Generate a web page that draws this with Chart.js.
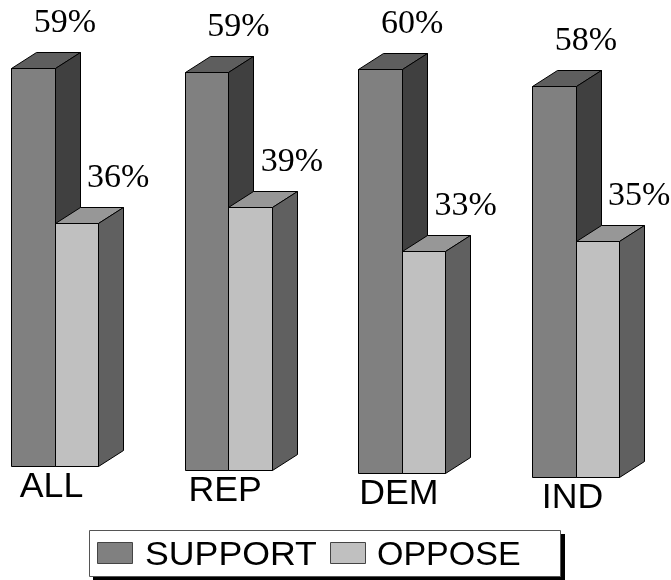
<!DOCTYPE html>
<html>
<head>
<meta charset="utf-8">
<script src="https://cdn.jsdelivr.net/npm/chart.js@4/dist/chart.umd.min.js"></script>
<style>
  body { margin: 0; background: #fff; }
</style>
</head>
<body>
<canvas id="chart" width="671" height="580"></canvas>
<script>
// données
const categories = ['ALL', 'REP', 'DEM', 'IND'];
const support = [59, 59, 60, 58];
const oppose = [36, 39, 33, 35];
const seriesNames = ['SUPPORT', 'OPPOSE'];

////////////

// profondeur des barres 3D (px)
const profX = 25;
const profY = -16;
// décalage vertical par catégorie (perspective)
const pente = 3.65;

const couleurs = [
    { face: '#808080', dessus: '#5e5e5e', cote: '#404040' },
    { face: '#c0c0c0', dessus: '#979797', cote: '#606060' }
];

function poly(ctx, pts, fill){
    ctx.beginPath();
    ctx.moveTo(pts[0][0], pts[0][1]);
    for(var i=1; i<pts.length; i++) ctx.lineTo(pts[i][0], pts[i][1]);
    ctx.closePath();
    ctx.fillStyle = fill;
    ctx.fill();
    ctx.stroke();
}

function boite(ctx, x0, x1, yh, yb, c){
    ctx.strokeStyle = '#000';
    ctx.lineWidth = 1;
    ctx.lineJoin = 'round';
    poly(ctx, [[x0,yh],[x1,yh],[x1,yb],[x0,yb]], c.face);
    poly(ctx, [[x0,yh],[x0+profX,yh+profY],[x1+profX,yh+profY],[x1,yh]], c.dessus);
    poly(ctx, [[x1,yh],[x1+profX,yh+profY],[x1+profX,yb+profY],[x1,yb]], c.cote);
}

// texte légèrement étiré horizontalement
function texteEtire(ctx, txt, x, y, sx){
    ctx.save();
    ctx.translate(x, y);
    ctx.scale(sx, 1);
    ctx.fillText(txt, 0, 0);
    ctx.restore();
}

const barres3d = {
    id: 'barres3d',
    beforeDatasetDraw(){ return false; },
    afterDraw(chart){
        const ctx = chart.ctx;
        const metas = [chart.getDatasetMeta(0), chart.getDatasetMeta(1)];
        const xs = chart.scales.x;
        ctx.save();
        for(var i=0; i<categories.length; i++){
            const dec = i*pente;
            for(var d=0; d<2; d++){
                const b = metas[d].data[i];
                const x0 = Math.round(b.x - b.width/2) + 0.5;
                const x1 = Math.round(b.x + b.width/2) + 0.5;
                const yh = Math.round(b.y + dec) + 0.5;
                const yb = Math.round(b.base + dec) + 0.5;
                boite(ctx, x0, x1, yh, yb, couleurs[d]);
            }
            // valeurs au-dessus des barres
            ctx.fillStyle = '#000';
            ctx.font = '34px "Liberation Serif", "Times New Roman", serif';
            ctx.textAlign = 'center';
            ctx.textBaseline = 'alphabetic';
            for(var d=0; d<2; d++){
                const b = metas[d].data[i];
                const val = chart.data.datasets[d].data[i];
                const xc = b.x + profX + (d==0 ? 7 : 17);
                const yc = b.y + dec + profY - 20;
                ctx.fillText(val + '%', xc, yc);
            }
            // libellé de catégorie
            ctx.font = '35px "Liberation Sans", Arial, sans-serif';
            const base = metas[0].data[i].base + dec;
            texteEtire(ctx, categories[i], xs.getPixelForValue(i) - 3, base + 31, 1.02);
        }

        // légende encadrée avec ombre
        ctx.fillStyle = '#000';
        ctx.fillRect(93, 534, 472, 47);
        ctx.fillStyle = '#fff';
        ctx.fillRect(89.5, 530.5, 471, 46);
        ctx.strokeStyle = '#555';
        ctx.strokeRect(89.5, 530.5, 471, 46);
        const legX = [97, 330];
        const txtX = [145, 377];
        ctx.font = '34px "Liberation Sans", Arial, sans-serif';
        ctx.textAlign = 'left';
        for(var d=0; d<2; d++){
            ctx.fillStyle = couleurs[d].face;
            ctx.fillRect(legX[d] + 0.5, 542.5, 35, 21);
            ctx.strokeStyle = '#444';
            ctx.strokeRect(legX[d] + 0.5, 542.5, 35, 21);
            ctx.fillStyle = '#000';
            texteEtire(ctx, chart.data.datasets[d].label, txtX[d], 565, d==0 ? 1.05 : 1.0);
        }
        ctx.restore();
    }
};

var ctx = document.getElementById('chart').getContext('2d');
var graph = new Chart(ctx, {
    type: 'bar',
    data: {
        labels: categories,
        datasets: [
            { label: seriesNames[0], data: support, backgroundColor: couleurs[0].face,
              categoryPercentage: 0.5, barPercentage: 1 },
            { label: seriesNames[1], data: oppose, backgroundColor: couleurs[1].face,
              categoryPercentage: 0.5, barPercentage: 1 }
        ]
    },
    options: {
        responsive: false,
        animation: false,
        layout: { padding: { left: 54.5, right: 95.5, top: 28, bottom: 114 } },
        scales: {
            x: { display: false, offset: false },
            y: { display: false, min: 0, max: 65 }
        },
        plugins: {
            legend: { display: false },
            tooltip: { enabled: false }
        }
    },
    plugins: [barres3d]
});
</script>
</body>
</html>
